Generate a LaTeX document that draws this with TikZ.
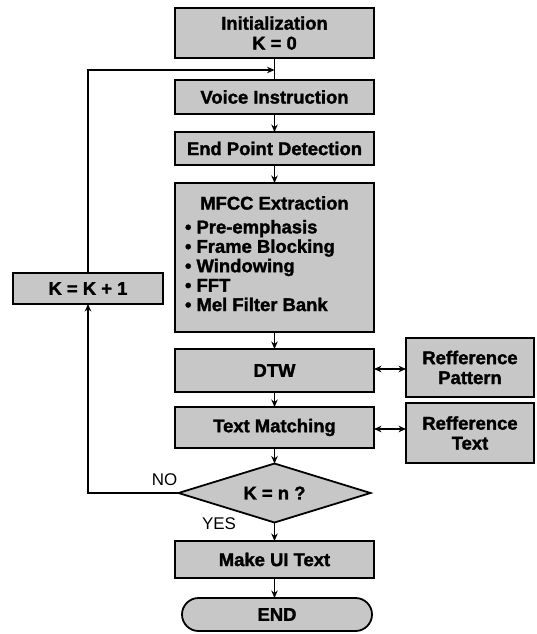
\documentclass[tikz,border=0pt]{standalone}
\usepackage{fontspec}
\setmainfont[BoldFeatures={FakeBold=1.6}]{Liberation Sans}
\usetikzlibrary{arrows.meta,shapes.geometric,shapes.misc}

\begin{document}
\begin{tikzpicture}[x=1bp,y=-1bp,
  every node/.style={inner sep=0pt, outer sep=0pt},
  boxfont/.style={font=\fontsize{18.5}{20}\selectfont\bfseries},
  proc/.style={draw=black, line width=1.8bp, fill=black!22, boxfont, align=center},
  colbox/.style={proc, minimum width=199bp},
  decide/.style={draw=black, line width=1.8bp, fill=black!22, diamond, aspect=3.25,
    minimum width=192bp, minimum height=59bp, boxfont},
  term/.style={draw=black, line width=1.8bp, fill=black!22, rounded rectangle,
    minimum width=190bp, minimum height=33bp, boxfont},
  flow/.style={line width=1.2bp, -{Stealth[length=7.5bp,width=6.5bp]}},
  both/.style={line width=1.2bp, {Stealth[length=7.5bp,width=6.5bp]}-{Stealth[length=7.5bp,width=6.5bp]}},
  plain/.style={line width=1.2bp},
  lbl/.style={font=\fontsize{17}{18}\selectfont}
]
\useasboundingbox (0,0) rectangle (537,634);

% main column
\node[colbox, minimum height=50bp] (init) at (274.5,33) {Initialization\\[0pt]K = 0};
\node[colbox, minimum height=34bp] (voice) at (274.5,97) {Voice Instruction};
\node[colbox, minimum height=33bp] (epd) at (274.5,148.5) {End Point Detection};
\node[colbox, minimum height=149bp] (mfcc) at (274.5,257.5) {};
\node[boxfont] (mfcctitle) at (274.5,203) {MFCC Extraction};
\node[font=\fontsize{18.5}{19.5}\selectfont\bfseries, align=left, anchor=north west]
  (mfcclist) at (185,220) {• Pre-emphasis\\• Frame Blocking\\• Windowing\\• FFT\\• Mel Filter Bank};
\node[colbox, minimum height=43bp] (dtw) at (274.5,370.5) {DTW};
\node[colbox, minimum height=41bp] (tm) at (274.5,427.5) {Text Matching};
\node[decide] (dec) at (274.5,493) {K = n ?};
\node[colbox, minimum height=37bp] (ui) at (274.5,559.5) {Make UI Text};
\node[term] (fin) at (277,614.5) {END};

% side boxes
\node[proc, minimum width=150bp, minimum height=31bp] (inc) at (88,288.5) {K = K + 1};
\node[proc, minimum width=128bp, minimum height=59bp] (refp) at (470,367.5) {Refference\\Pattern};
\node[proc, minimum width=128bp, minimum height=60bp] (reft) at (470,433) {Refference\\Text};

% connectors
\coordinate (join) at (274.5,70);
\draw[plain] (init.south) -- (voice.north);
\draw[flow] (inc.north) |- (join);
\draw[flow] (voice) -- (epd);
\draw[flow] (epd) -- (mfcc);
\draw[flow] (mfcc) -- (dtw);
\draw[flow] (dtw) -- (tm);
\draw[flow] (tm) -- (dec);
\draw[flow] (dec) -- (ui);
\draw[flow] (ui.south) -- (ui.south |- fin.north);
\draw[both] ([yshift=1.5bp]dtw.east) -- ([yshift=1.5bp]dtw.east -| refp.west);
\draw[both] ([yshift=-1.5bp]tm.east) -- ([yshift=-1.5bp]tm.east -| reft.west);
\draw[flow] (dec.west) -| (inc.south);

% branch labels
\node[lbl] (no) at (164.5,480) {NO};
\node[lbl] (yes) at (219,523.5) {YES};
\end{tikzpicture}
\end{document}
